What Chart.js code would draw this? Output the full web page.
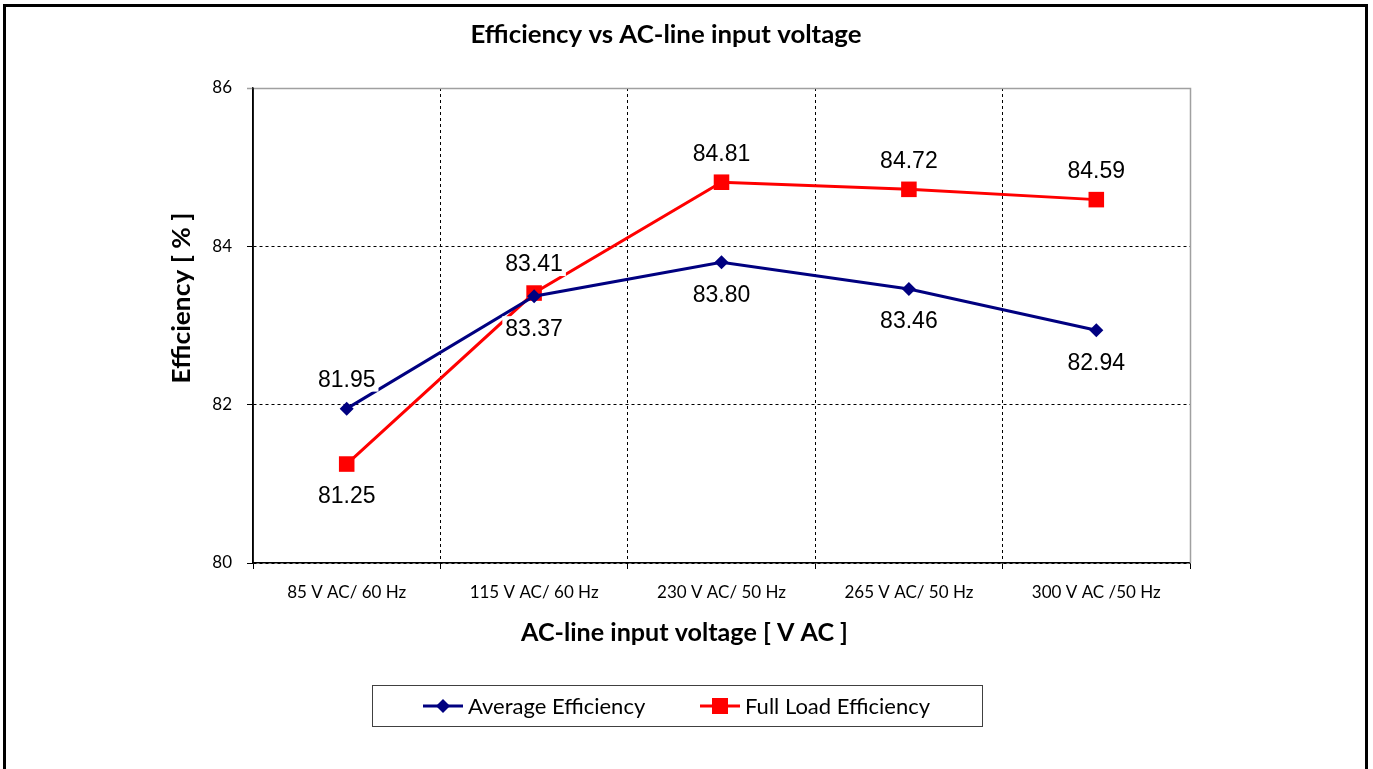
<!DOCTYPE html>
<html><head><meta charset="utf-8">
<script src="https://cdn.jsdelivr.net/npm/chart.js@4/dist/chart.umd.min.js"></script>
<style>html,body{margin:0;padding:0;background:#fff;overflow:hidden}#wrap{width:1373px;height:769px;position:relative}</style>
</head><body><div id="wrap"><canvas id="c" width="1373" height="769"></canvas></div>
<script>
const categories = ['85 V AC/ 60 Hz', '115 V AC/ 60 Hz', '230 V AC/ 50 Hz', '265 V AC/ 50 Hz', '300 V AC /50 Hz'];
const averageEfficiency = [81.95, 83.37, 83.80, 83.46, 82.94];
const fullLoadEfficiency = [81.25, 83.41, 84.81, 84.72, 84.59];
const yTicks = [80, 82, 84, 86];
const seriesNames = ['Average Efficiency', 'Full Load Efficiency'];
const chartTitle = 'Efficiency vs AC-line input voltage';
const xTitle = 'AC-line input voltage [ V AC ]';
const yTitle = 'Efficiency [ % ]';

const NAVY = '#000080', RED = '#ff0000';
const labelFont = '23px "Liberation Sans", Arial, sans-serif';
const titleFontFamily = 'Lato, "Open Sans", sans-serif';

function fitText(ctx, txt, x, y, w) {
  // draw text horizontally centered at x, scaled to width w
  const m = ctx.measureText(txt).width;
  ctx.save();
  ctx.translate(x, y);
  ctx.scale(w / m, 1);
  ctx.fillText(txt, 0, 0);
  ctx.restore();
}

const decorPlugin = {
  id: 'decor',
  beforeDraw(chart) {
    const ctx = chart.ctx;
    ctx.save();
    ctx.fillStyle = '#fff';
    ctx.fillRect(0, 0, chart.width, chart.height);
    ctx.strokeStyle = '#000';
    ctx.lineWidth = 3;
    ctx.beginPath();
    ctx.moveTo(4.5, 800); ctx.lineTo(4.5, 5.5); ctx.lineTo(1366.5, 5.5); ctx.lineTo(1366.5, 800);
    ctx.stroke();
    ctx.restore();
  },
  beforeDatasetsDraw(chart) {
    const ctx = chart.ctx, a = chart.chartArea;
    ctx.save();
    ctx.strokeStyle = '#a0a0a0';
    ctx.lineWidth = 1.5;
    ctx.beginPath();
    ctx.moveTo(a.left - 6, a.top + 0.5); ctx.lineTo(a.right + 0.5, a.top + 0.5); ctx.lineTo(a.right + 0.5, a.bottom);
    ctx.stroke();
    ctx.strokeStyle = '#000';
    ctx.beginPath();
    ctx.moveTo(a.left, a.top); ctx.lineTo(a.left, a.bottom);
    ctx.stroke();
    ctx.restore();
  },
  afterDatasetsDraw(chart, args, opts) {
    const ctx = chart.ctx;
    ctx.save();
    ctx.font = labelFont;
    ctx.textAlign = 'center';
    ctx.textBaseline = 'middle';
    chart.data.datasets.forEach((ds, di) => {
      const meta = chart.getDatasetMeta(di);
      const place = opts.placement[di];
      meta.data.forEach((pt, i) => {
        const txt = ds.data[i].toFixed(2);
        const y = pt.y + (place[i] === 'above' ? -29 : 32);
        const w = ctx.measureText(txt).width;
        ctx.fillStyle = '#fff';
        ctx.fillRect(pt.x - w / 2 - 3, y - 12, w + 6, 24);
        ctx.fillStyle = '#000';
        ctx.fillText(txt, pt.x, y + 1);
      });
    });
    ctx.restore();
  },
  afterDraw(chart) {
    const ctx = chart.ctx;
    ctx.save();
    ctx.fillStyle = '#000';
    ctx.textAlign = 'center';
    ctx.textBaseline = 'middle';
    ctx.font = 'bold 25px ' + titleFontFamily;
    fitText(ctx, chartTitle, 666, 35, 391);
    fitText(ctx, xTitle, 684.5, 633, 327);
    ctx.save();
    ctx.translate(182, 298);
    ctx.rotate(-Math.PI / 2);
    fitText(ctx, yTitle, 0, 0, 171);
    ctx.restore();
    // legend
    ctx.strokeStyle = '#404040';
    ctx.lineWidth = 1;
    ctx.strokeRect(372.5, 685.5, 610, 41);
    const items = [
      {x: 423, color: NAVY, style: 'diamond'},
      {x: 700, color: RED, style: 'square'}
    ];
    ctx.textAlign = 'left';
    ctx.font = '22px ' + titleFontFamily;
    items.forEach((it, i) => {
      const y = 706;
      ctx.strokeStyle = it.color;
      ctx.lineWidth = 3;
      ctx.beginPath(); ctx.moveTo(it.x, y); ctx.lineTo(it.x + 40, y); ctx.stroke();
      ctx.fillStyle = it.color;
      const cx = it.x + 20;
      if (it.style === 'diamond') {
        ctx.beginPath(); ctx.moveTo(cx - 7, y); ctx.lineTo(cx, y - 7); ctx.lineTo(cx + 7, y); ctx.lineTo(cx, y + 7); ctx.closePath(); ctx.fill();
      } else {
        ctx.fillRect(cx - 8, y - 8, 16, 16);
      }
      ctx.fillStyle = '#000';
      ctx.fillText(seriesNames[i], it.x + 45, y + 1);
    });
    ctx.restore();
  }
};

new Chart(document.getElementById('c'), {
  type: 'line',
  data: {
    labels: categories,
    datasets: [
      {label: seriesNames[0], data: averageEfficiency, borderColor: NAVY, backgroundColor: NAVY, borderWidth: 3,
       pointStyle: 'rectRot', pointRadius: 7, pointHoverRadius: 7, pointBorderWidth: 0, tension: 0},
      {label: seriesNames[1], data: fullLoadEfficiency, borderColor: RED, backgroundColor: RED, borderWidth: 3,
       pointStyle: 'rect', pointRadius: 11, pointHoverRadius: 11, pointBorderWidth: 0, tension: 0}
    ]
  },
  options: {
    responsive: false,
    animation: false,
    events: [],
    layout: {padding: {left: 0, right: 183, top: 88, bottom: 166}},
    plugins: {
      legend: {display: false},
      title: {display: false},
      tooltip: {enabled: false},
      decor: {placement: [
        ['above', 'below', 'below', 'below', 'below'],
        ['below', 'above', 'above', 'above', 'above']
      ]}
    },
    scales: {
      x: {
        offset: true,
        grid: {offset: true, color: (c) => (c.type === 'tick' && c.index > 0) ? '#000' : 'rgba(0,0,0,0)',
               lineWidth: 1, tickLength: 6, tickColor: '#000', tickWidth: 1},
        border: {display: true, color: '#000', width: 1.5, dash: [3, 3]},
        ticks: {color: '#000', font: {family: titleFontFamily, size: 17}, padding: 13, maxRotation: 0, autoSkip: false},
        afterFit(s) { s.height = 40; }
      },
      y: {
        min: 80, max: 86,
        afterBuildTicks(s) { s.ticks = yTicks.map(v => ({value: v})); },
        grid: {color: (c) => (c.tick && c.tick.value === 86) ? 'rgba(0,0,0,0)' : '#000', lineWidth: 1, tickLength: 6,
               tickColor: (c) => (c.tick && c.tick.value === 86) ? '#a0a0a0' : '#000'},
        border: {display: true, color: '#000', width: 1.5, dash: [3, 3]},
        ticks: {color: '#000', font: {family: titleFontFamily, size: 17}, padding: 15},
        afterFit(s) { s.width = 253; }
      }
    }
  },
  plugins: [decorPlugin]
});
</script>
</body></html>
